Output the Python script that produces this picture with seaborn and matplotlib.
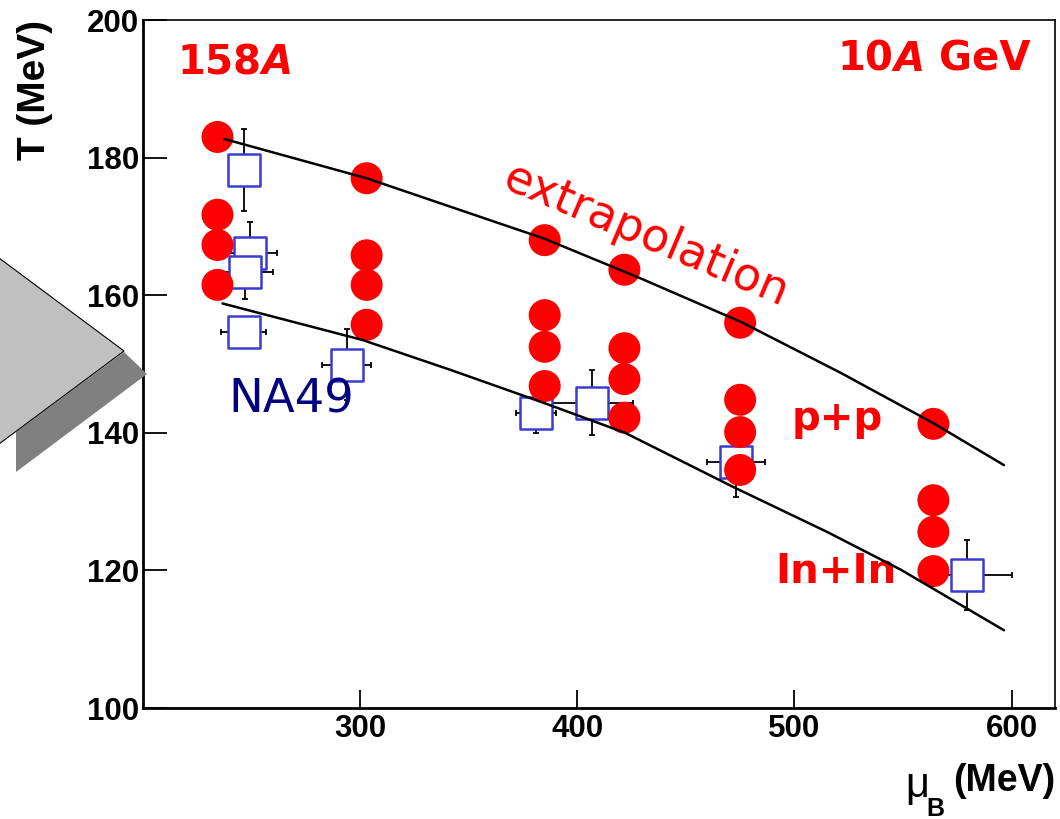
import matplotlib
matplotlib.use("Agg")
import matplotlib.pyplot as plt
from matplotlib.patches import Polygon
import seaborn as sns

# NA49 freeze-out points (open squares with errors)
na49_mu = [246.3, 249.2, 247.0, 246.3, 293.8, 381.0, 406.6, 473.2, 579.6]
na49_T = [178.2, 166.2, 163.4, 154.6, 149.9, 142.9, 144.4, 135.8, 119.3]
na49_mu_err = [0, 12.6, 13.0, 10.3, 11.3, 9.0, 19.0, 13.3, 20.7]
na49_T_err = [6.0, 4.4, 4.0, 0, 5.2, 3.0, 4.7, 5.1, 5.1]

# red points
model_mu = [234.3, 234.3, 234.3, 234.3,
            303.0, 303.0, 303.0, 303.0,
            385.0, 385.0, 385.0, 385.0,
            421.7, 421.7, 421.7, 421.7,
            475.0, 475.0, 475.0, 475.0,
            564.0, 564.0, 564.0, 564.0]
model_T = [183.0, 171.7, 167.3, 161.5,
           177.0, 165.8, 161.5, 155.7,
           168.0, 157.1, 152.5, 146.8,
           163.7, 152.3, 147.8, 142.2,
           156.0, 144.8, 140.1, 134.6,
           141.3, 130.2, 125.6, 119.9]

# curves
pp_mu = [237.5, 303.0, 385.0, 429.5, 475.5, 521.4, 564.0, 596.5]
pp_T = [182.7, 177.0, 168.2, 162.4, 156.1, 148.7, 141.4, 135.3]
inin_mu = [236.6, 301.0, 342.0, 385.0, 422.0, 472.0, 515.0, 549.0, 596.5]
inin_T = [158.8, 153.5, 149.1, 144.3, 140.0, 132.1, 125.6, 120.1, 111.3]

xticks = [300, 400, 500, 600]
yticks = [100, 120, 140, 160, 180, 200]

sns.set_style("ticks", {"axes.edgecolor": "black", "xtick.color": "black",
                        "ytick.color": "black", "text.color": "black",
                        "axes.labelcolor": "black"})
W, H = 1060, 819
fig = plt.figure(figsize=(W / 100, H / 100), dpi=100)
ax = fig.add_axes([143 / W, 1 - 708 / H, (1055 - 143) / W, (708 - 20) / H])

ax.errorbar(na49_mu, na49_T, xerr=na49_mu_err, yerr=na49_T_err, fmt='none',
            ecolor='black', elinewidth=1.3, capsize=2.5, capthick=1.3, zorder=2)
sns.scatterplot(x=na49_mu, y=na49_T, marker='s', s=560, color='white',
                edgecolor='#3b3bd0', linewidth=1.8, zorder=3, ax=ax)
sns.scatterplot(x=model_mu, y=model_T, marker='o', s=530, color='#ff0000',
                edgecolor='none', linewidth=0, zorder=4, ax=ax)
sns.lineplot(x=pp_mu, y=pp_T, color='black', linewidth=1.8, sort=False,
             estimator=None, zorder=5, ax=ax)
sns.lineplot(x=inin_mu, y=inin_T, color='black', linewidth=1.8, sort=False,
             estimator=None, zorder=5, ax=ax)

ax.set_xlim(200, 620)
ax.set_ylim(100, 200)
ax.set_xticks(xticks)
ax.set_yticks(yticks)
ax.tick_params(axis='both', direction='in', width=1.3, pad=3, labelsize=22.5,
               color='black', labelcolor='black')
ax.tick_params(axis='y', length=17)
ax.tick_params(axis='x', length=13, pad=4)
for lab in ax.get_xticklabels() + ax.get_yticklabels():
    lab.set_fontfamily('Liberation Sans')
    lab.set_fontweight('bold')
for side in ['left', 'bottom']:
    ax.spines[side].set_linewidth(2.0)
for side in ['top', 'right']:
    ax.spines[side].set_linewidth(1.2)
    ax.spines[side].set_visible(True)

ax.set_ylabel('T (MeV)', fontsize=28, fontweight='bold', family='Liberation Sans',
              loc='top', labelpad=24)
ax.set_xlabel('(MeV)', fontsize=27, fontweight='bold',
              family='Liberation Sans', loc='right', labelpad=14)
fig.text(905 / W, 1 - 797 / H, 'μ', fontsize=30, family='Liberation Sans',
         ha='left', va='baseline')
fig.text(926 / W, 1 - 816 / H, 'B', fontsize=18, fontweight='bold',
         family='Liberation Sans', ha='left', va='baseline')

# annotations
red_bold = dict(color='#ff0000', fontsize=29, fontweight='bold', family='DejaVu Sans')
t = ax.text(216.0, 192.1, '158', va='baseline', ha='left', **red_bold)
ax.annotate('A', xy=(1, 0), xycoords=t, va='bottom', ha='left', style='italic', **red_bold)

t = ax.text(520.0, 192.6, '10', va='baseline', ha='left', **red_bold)
t2 = ax.annotate('A', xy=(1, 0), xycoords=t, va='bottom', ha='left', style='italic', **red_bold)
ax.annotate(' GeV', xy=(1, 0), xycoords=t2, va='bottom', ha='left', **red_bold)

ax.text(431.5, 168.6, 'extrapolation', color='#ff0000', fontsize=33,
        rotation=-23, rotation_mode='anchor', ha='center', va='center')
ax.text(239.5, 143.0, 'NA49', color='#000080', fontsize=33.5, va='baseline', ha='left')
ax.text(498.5, 140.4, 'p+p', va='baseline', ha='left', **red_bold)
ax.text(491.0, 118.2, 'In+In', va='baseline', ha='left', **red_bold)

# grey slide arrow on the left
def px(pts):
    return [(x / W, 1 - y / H) for x, y in pts]

fig.patches.append(Polygon(px([(16, 432), (124, 352), (147, 374), (16, 472)]),
                           closed=True, facecolor='#808080', edgecolor='none',
                           transform=fig.transFigure, figure=fig))
fig.patches.append(Polygon(px([(-5, 255), (124, 351), (-5, 447)]),
                           closed=True, facecolor='#c0c0c0', edgecolor='black',
                           linewidth=0.8, transform=fig.transFigure, figure=fig))

fig.savefig('out.png', dpi=100)
